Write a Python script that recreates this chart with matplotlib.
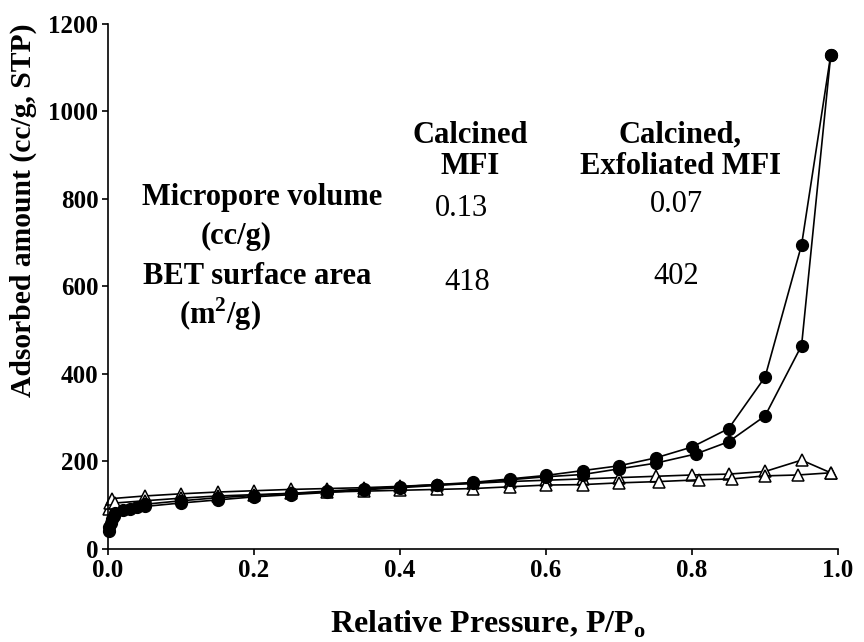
import matplotlib
matplotlib.use("Agg")
import matplotlib.pyplot as plt

# filled circles: adsorption branch
circ_ads_x = [0.001, 0.002, 0.004, 0.006, 0.008, 0.01, 0.02, 0.03, 0.04, 0.05, 0.1, 0.15,
              0.2, 0.25, 0.3, 0.35, 0.4, 0.45, 0.5, 0.55, 0.6, 0.65, 0.7, 0.75, 0.805,
              0.85, 0.9, 0.95, 0.99]
circ_ads_y = [40, 50, 60, 68, 75, 82, 88, 92, 95, 97, 105, 112,
              119, 124, 129, 135, 140, 145, 150, 158, 165, 170, 183, 196, 217,
              245, 304, 465, 1130]
# filled circles: desorption branch
circ_des_x = [0.99, 0.95, 0.9, 0.85, 0.8, 0.75, 0.7, 0.65, 0.6, 0.55, 0.5, 0.45, 0.4,
              0.35, 0.3, 0.25, 0.2, 0.15, 0.1, 0.05]
circ_des_y = [1130, 695, 393, 275, 233, 208, 190, 179, 168, 160, 152, 147, 142,
              137, 132, 127, 122, 117, 110, 102]

# open triangles: adsorption branch
tri_ads_x = [0.001, 0.003, 0.005, 0.05, 0.1, 0.15, 0.2, 0.25, 0.3, 0.35, 0.4, 0.45,
             0.5, 0.55, 0.6, 0.65, 0.7, 0.75, 0.8, 0.85, 0.9, 0.95, 0.99]
tri_ads_y = [92, 105, 115, 121, 126, 130, 133, 136, 138, 140, 143, 147,
             150, 154, 157, 160, 163, 166, 169, 171, 177, 203, 174]
# open triangles: desorption branch
tri_des_x = [0.99, 0.945, 0.9, 0.855, 0.81, 0.755, 0.7, 0.65, 0.6, 0.55, 0.5, 0.45,
             0.4, 0.35, 0.3, 0.25, 0.2, 0.15, 0.1, 0.05, 0.01]
tri_des_y = [174, 169, 167, 160, 158, 154, 151, 147, 146, 142, 138, 136,
             134, 132, 130, 127, 124, 121, 116, 110, 105]

x_ticks = [0.0, 0.2, 0.4, 0.6, 0.8, 1.0]
y_ticks = [0, 200, 400, 600, 800, 1000, 1200]

plt.rcParams["font.family"] = ["Liberation Serif", "DejaVu Serif"]
plt.rcParams["mathtext.fontset"] = "custom"
plt.rcParams["mathtext.rm"] = "Liberation Serif"
plt.rcParams["mathtext.bf"] = "Liberation Serif:bold"

fig = plt.figure(figsize=(8.64, 6.42), dpi=100)
ax = fig.add_axes([0.125, 0.145, 0.845, 0.8176])

tri_style = dict(color="black", lw=1.2, marker="^", ms=8, mfc="white", mec="black", mew=1.1)
circ_style = dict(color="black", lw=1.2, marker="o", ms=8.5, mfc="black", mec="black")
ax.plot(tri_ads_x, tri_ads_y, **tri_style)
ax.plot(tri_des_x, tri_des_y, **tri_style)
ax.plot(circ_ads_x, circ_ads_y, **circ_style)
ax.plot(circ_des_x, circ_des_y, **circ_style)

ax.set_xlim(0, 1.0)
ax.set_ylim(0, 1200)
ax.set_xticks(x_ticks)
ax.set_xticklabels([f"{v:.1f}" for v in x_ticks])
ax.set_yticks(y_ticks)
ax.tick_params(direction="out", length=4, width=1.2, labelsize=18, pad=3)
for lab in ax.get_xticklabels() + ax.get_yticklabels():
    lab.set_fontweight("bold")
ax.spines["top"].set_visible(False)
ax.spines["right"].set_visible(False)
ax.spines["left"].set_linewidth(1.2)
ax.spines["bottom"].set_linewidth(1.2)
for ln in ax.lines:
    ln.set_clip_on(False)

ax.set_xlabel(r"Relative Pressure, P/P$_{\mathbf{o}}$", fontsize=23, fontweight="bold")
ax.xaxis.set_label_coords(0.52, -0.113)
ax.set_ylabel("Adsorbed amount (cc/g, STP)", fontsize=21.3, fontweight="bold")
ax.yaxis.set_label_coords(-0.097, 0.646)

bold = dict(fontsize=22, fontweight="bold", ha="center", va="center", transform=fig.transFigure)
norm = dict(fontsize=22, ha="center", va="center", transform=fig.transFigure)
W, H = 864.0, 642.0
ax.text(470 / W, 1 - 151 / H, "Calcined\nMFI", linespacing=1.1, **bold)
ax.text(680 / W, 1 - 151 / H, "Calcined,\nExfoliated MFI", linespacing=1.1, **bold)
ax.text(262 / W, 1 - 198 / H, "Micropore volume", **bold)
ax.text(236 / W, 1 - 236 / H, "(cc/g)", **bold)
ax.text(257 / W, 1 - 276 / H, "BET surface area", **bold)
ax.text(220 / W, 1 - 314 / H, r"(m$^{\mathbf{2}}$/g)", **bold)
ax.text(462 / W, 1 - 208 / H, "0.13", **norm)
ax.text(676 / W, 1 - 205 / H, "0.07", **norm)
ax.text(467 / W, 1 - 283 / H, "418", **norm)
ax.text(676 / W, 1 - 276 / H, "402", **norm)

fig.savefig("out.png", dpi=100)
